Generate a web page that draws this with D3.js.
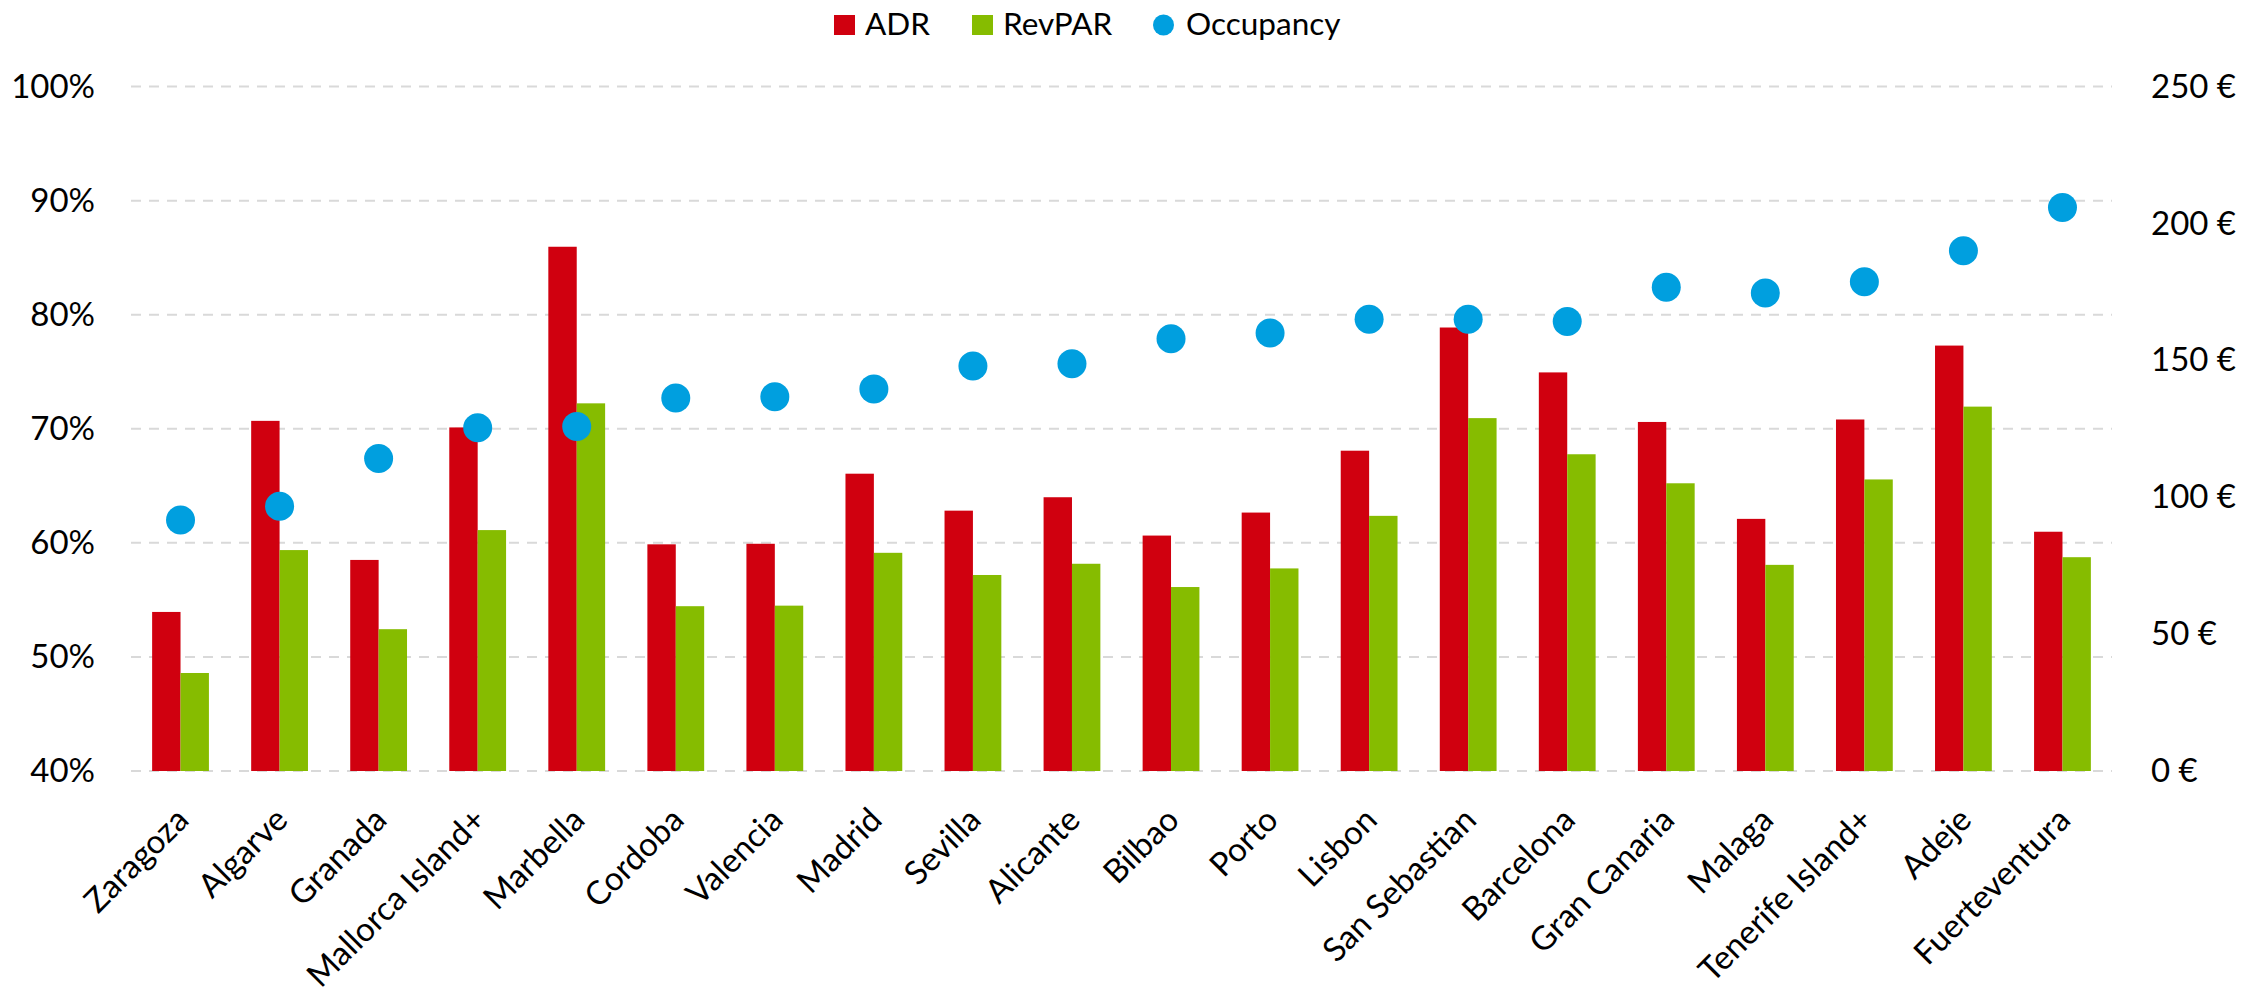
<!DOCTYPE html>
<html>
<head>
<meta charset="utf-8">
<script src="https://cdn.jsdelivr.net/npm/d3@7"></script>
<style>
  body { margin: 0; background: #fff; }
  text { font-family: Lato, "Open Sans", sans-serif; fill: #000; }
</style>
</head>
<body>
<script>
// chart values
var cities = ['Zaragoza', 'Algarve', 'Granada', 'Mallorca Island+', 'Marbella', 'Cordoba',
  'Valencia', 'Madrid', 'Sevilla', 'Alicante', 'Bilbao', 'Porto', 'Lisbon', 'San Sebastian',
  'Barcelona', 'Gran Canaria', 'Malaga', 'Tenerife Island+', 'Adeje', 'Fuerteventura'];

var adr = [58.1, 127.9, 77.1, 125.5, 191.5, 82.8, 83.0, 108.6, 95.1, 100.0,
  86.0, 94.4, 117.0, 162.0, 145.6, 127.5, 92.1, 128.4, 155.4, 87.4];

var revpar = [35.8, 80.7, 51.8, 88.0, 134.3, 60.2, 60.4, 79.7, 71.6, 75.7,
  67.2, 74.0, 93.2, 128.9, 115.7, 105.1, 75.3, 106.5, 133.1, 78.1];

var occupancy = [0.620, 0.632, 0.674, 0.701, 0.702, 0.727, 0.728, 0.735, 0.755, 0.757,
  0.779, 0.784, 0.796, 0.796, 0.794, 0.824, 0.819, 0.829, 0.856, 0.894];

var occTicks = [0.4, 0.5, 0.6, 0.7, 0.8, 0.9, 1.0];
var eurTicks = [0, 50, 100, 150, 200, 250];

var seriesNames = ['ADR', 'RevPAR'];
var colors = { ADR: '#d0000f', RevPAR: '#86bc00', Occupancy: '#009fdf' };

// page size
var width = 2264,
	height = 995;

var margin = { top: 86.6, right: 152, bottom: 224, left: 131 };

var svg = d3.select('body')
	.append('svg')
	.attr('width', width)
	.attr('height', height);

// scales
var x = d3.scaleBand()
	.domain(cities)
	.range([margin.left, width - margin.right]);

var xInner = d3.scaleBand()
	.domain(seriesNames)
	.range([0, x.bandwidth()])
	.paddingInner(0)
	.paddingOuter(0.744);

var yOcc = d3.scaleLinear()
	.domain([0.4, 1.0])
	.range([height - margin.bottom, margin.top]);

var yEur = d3.scaleLinear()
	.domain([0, 250])
	.range([height - margin.bottom, margin.top]);

// dashed grid lines
svg.append('g')
	.selectAll('line')
	.data(occTicks)
	.enter().append('line')
	.attr('x1', margin.left)
	.attr('x2', width - margin.right)
	.attr('y1', function(d) { return yOcc(d); })
	.attr('y2', function(d) { return yOcc(d); })
	.attr('stroke', '#d9d9d9')
	.attr('stroke-width', 2)
	.attr('stroke-dasharray', '10,8');

// left axis (occupancy)
svg.append('g')
	.attr('transform', 'translate(' + margin.left + ',0)')
	.call(d3.axisLeft(yOcc)
		.tickValues(occTicks)
		.tickFormat(d3.format('.0%'))
		.tickSize(0)
		.tickPadding(36));

// right axis (euros)
svg.append('g')
	.attr('transform', 'translate(' + (width - margin.right) + ',0)')
	.call(d3.axisRight(yEur)
		.tickValues(eurTicks)
		.tickFormat(function(d) { return d + ' €'; })
		.tickSize(0)
		.tickPadding(39));

svg.selectAll('.domain').remove();
svg.selectAll('.tick text')
	.style('font-size', '33px')
	.style('font-family', 'Lato, sans-serif')
	.attr('fill', '#000');

// bars
var groups = svg.append('g')
	.selectAll('g')
	.data(cities)
	.enter().append('g')
	.attr('transform', function(d) { return 'translate(' + x(d) + ',0)'; });

groups.selectAll('rect')
	.data(function(d, i) {
		return [{ key: 'ADR', value: adr[i] }, { key: 'RevPAR', value: revpar[i] }];
	})
	.enter().append('rect')
	.attr('x', function(d) { return xInner(d.key); })
	.attr('width', xInner.bandwidth())
	.attr('y', function(d) { return yEur(d.value); })
	.attr('height', function(d) { return yEur(0) - yEur(d.value); })
	.attr('fill', function(d) { return colors[d.key]; });

// occupancy dots
svg.append('g')
	.selectAll('circle')
	.data(occupancy)
	.enter().append('circle')
	.attr('cx', function(d, i) { return x(cities[i]) + x.bandwidth() / 2; })
	.attr('cy', function(d) { return yOcc(d); })
	.attr('r', 14.5)
	.attr('fill', colors.Occupancy);

// rotated city labels
svg.append('g')
	.selectAll('text')
	.data(cities)
	.enter().append('text')
	.attr('transform', function(d) {
		return 'translate(' + (x(d) + x.bandwidth() / 2 + 10) + ',' + (height - margin.bottom + 51) + ') rotate(-45)';
	})
	.attr('text-anchor', 'end')
	.style('font-size', '33px')
	.text(function(d) { return d; });

// legend
var legendItems = [
	{ name: 'ADR', x: 834, shape: 'rect' },
	{ name: 'RevPAR', x: 972, shape: 'rect' },
	{ name: 'Occupancy', x: 1153, shape: 'circle' }
];

var legend = svg.append('g');

legendItems.forEach(function(d) {
	if (d.shape === 'rect') {
		legend.append('rect')
			.attr('x', d.x)
			.attr('y', 15)
			.attr('width', 21)
			.attr('height', 20)
			.attr('fill', colors[d.name]);
	} else {
		legend.append('circle')
			.attr('cx', d.x + 10.5)
			.attr('cy', 25)
			.attr('r', 10.5)
			.attr('fill', colors[d.name]);
	}
	legend.append('text')
		.attr('x', d.x + (d.shape === 'rect' ? 31 : 33))
		.attr('y', 35)
		.style('font-size', '31.5px')
		.text(d.name);
});
</script>
</body>
</html>
